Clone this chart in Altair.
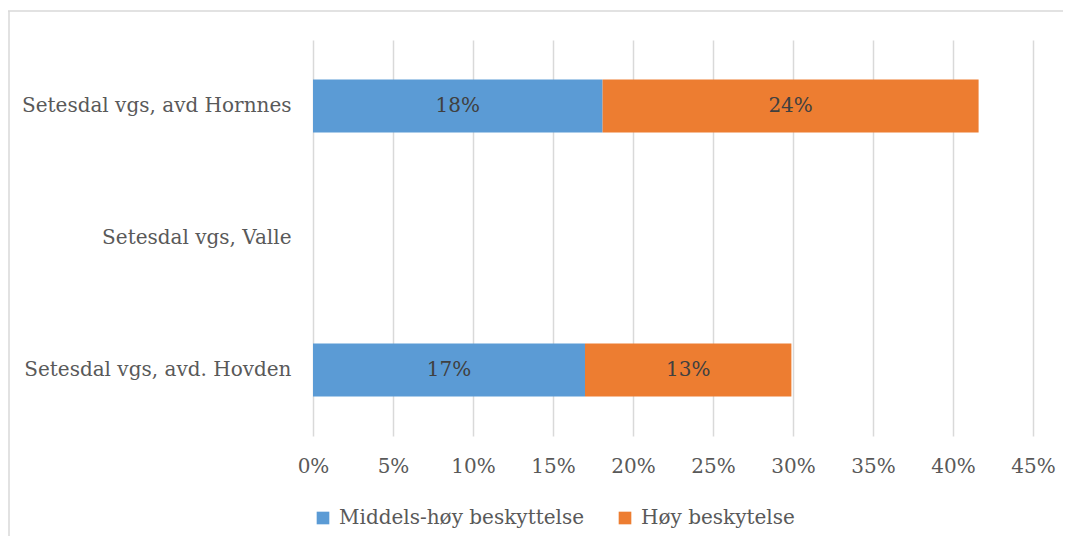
import altair as alt
import pandas as pd

categories = ["Setesdal vgs, avd Hornnes", "Setesdal vgs, Valle", "Setesdal vgs, avd. Hovden"]
series = ["Middels-høy beskyttelse", "Høy beskytelse"]
middels = [0.181, None, 0.17]
hoy = [0.235, None, 0.129]
colors = ["#5B9BD5", "#ED7D31"]
ticks = [0, 0.05, 0.10, 0.15, 0.20, 0.25, 0.30, 0.35, 0.40, 0.45]

rows = []
for c, m, h in zip(categories, middels, hoy):
    if m is None:
        continue
    rows.append({"cat": c, "serie": series[0], "start": 0.0, "end": m, "val": m, "mid": m / 2})
    rows.append({"cat": c, "serie": series[1], "start": m, "end": m + h, "val": h, "mid": m + h / 2})
df = pd.DataFrame(rows)

FONT = "DejaVu Serif"
FS = 20

y = alt.Y("cat:N", sort=categories, scale=alt.Scale(domain=categories, paddingInner=0.6, paddingOuter=0.3),
          axis=alt.Axis(title=None, ticks=False, domain=False, labelFont=FONT, labelFontSize=FS,
                        labelColor="#595959", labelPadding=22, labelLimit=400))

bars = alt.Chart(df).mark_bar().encode(
    x=alt.X("start:Q", scale=alt.Scale(domain=[0, 0.45], nice=False),
            axis=alt.Axis(title=None, values=ticks, format=".0%", ticks=False, domain=False,
                          grid=True, gridColor="#d9d9d9", gridWidth=1.5, labelFont=FONT,
                          labelFontSize=FS, labelColor="#595959", labelPadding=20,
                          labelFlush=False)),
    x2="end:Q",
    y=y,
    color=alt.Color("serie:N", sort=series, scale=alt.Scale(domain=series, range=colors),
                    legend=alt.Legend(title=None, orient="none", direction="horizontal",
                                      legendX=0, legendY=468, symbolType="square", symbolSize=160,
                                      symbolStrokeWidth=0, labelFont=FONT, labelFontSize=FS,
                                      labelColor="#595959", columnPadding=30, labelOffset=6,
                                      labelLimit=400)),
)

text = alt.Chart(df).mark_text(font=FONT, fontSize=FS, color="#404040").encode(
    x="mid:Q",
    y=alt.Y("cat:N", sort=categories),
    text=alt.Text("val:Q", format=".0%"),
)

border_df = pd.DataFrame({"k": [0]})
top_border = alt.Chart(border_df).mark_rule(color="#d9d9d9", strokeWidth=1.5).encode(
    x=alt.value(-305), x2=alt.value(800), y=alt.value(-29))
left_border = alt.Chart(border_df).mark_rule(color="#d9d9d9", strokeWidth=1.5).encode(
    x=alt.value(-304), y=alt.value(-29), y2=alt.value(520))

chart = (top_border + left_border + bars + text).properties(
    width=720, height=396,
    padding={"left": 305, "top": 32, "right": 30, "bottom": 100},
    autosize=alt.AutoSizeParams(type="none"),
).configure_view(stroke=None)

chart.save("out.html", embed_options={"renderer": "svg", "actions": False})
